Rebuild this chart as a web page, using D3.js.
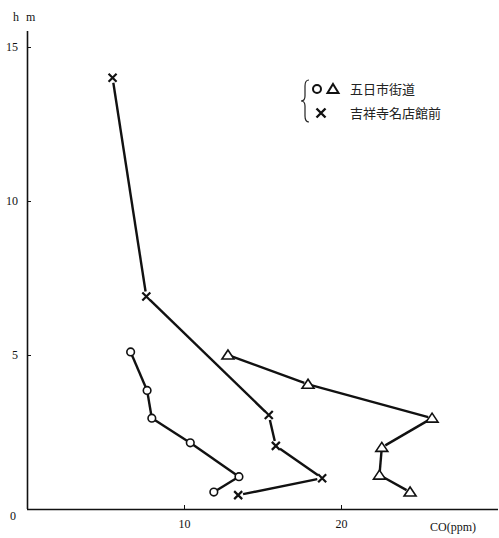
<!DOCTYPE html>
<html>
<head>
<meta charset="utf-8">
<script src="https://cdn.jsdelivr.net/npm/d3@7"></script>
<style>
  html, body { margin: 0; padding: 0; background: #fff; }
  svg { display: block; }
  .axis text { font-family: "Liberation Serif", "DejaVu Serif", serif; font-size: 12px; fill: #111; }
  .axis path, .axis line { stroke: #111; }
</style>
</head>
<body>
<svg id="chart" width="499" height="538"></svg>
<script>
// CO concentration (ppm) against height above ground (m)
const itsukaichiHeight = [5.1, 3.85, 2.95, 2.15, 1.05, 0.55];   // 五日市街道 (circles)
const itsukaichiCO     = [6.6, 7.65, 7.95, 10.4, 13.5, 11.9];
const itsukaichi2Height = [5.0, 4.05, 2.95, 2.0, 1.1, 0.55];    // 五日市街道 (triangles)
const itsukaichi2CO     = [12.8, 17.9, 25.8, 22.6, 22.45, 24.4];
const kichijojiHeight = [14.0, 6.9, 3.05, 2.05, 1.0, 0.45];     // 吉祥寺名店館前 (crosses)
const kichijojiCO     = [5.45, 7.6, 15.4, 15.85, 18.8, 13.45];
const xTicks = [10, 20];
const yTicks = [5, 10, 15];
const legendLabels = ["五日市街道", "吉祥寺名店館前"];

const svg = d3.select("#chart");
const x = d3.scaleLinear().domain([0, 30]).range([27, 498]);
const y = d3.scaleLinear().domain([0, 15]).range([509, 47]);

// axes
svg.append("g").attr("class", "axis")
  .attr("transform", `translate(0,${y(0)})`)
  .call(d3.axisBottom(x).tickValues(xTicks).tickSizeInner(-4).tickSizeOuter(0).tickPadding(10))
  .call(g => g.select(".domain").attr("d", `M${x(0)},0.5H498`).attr("stroke-width", 1.6));
svg.append("g").attr("class", "axis")
  .attr("transform", `translate(${x(0)},0)`)
  .call(d3.axisLeft(y).tickValues(yTicks).tickSizeInner(-4).tickSizeOuter(0).tickPadding(9))
  .call(g => g.select(".domain").attr("d", `M0.5,${y(0)}V31`).attr("stroke-width", 1.6));

const serif = '"Liberation Serif", "DejaVu Serif", serif';
svg.append("text").attr("x", 10).attr("y", 520).attr("font-family", serif)
  .attr("font-size", 12).attr("fill", "#111").text("0");
const unit = svg.append("text").attr("y", 21).attr("font-family", serif)
  .attr("font-size", 12).attr("fill", "#111");
unit.append("tspan").attr("x", 13).text("h");
unit.append("tspan").attr("x", 26).text("m");
svg.append("text").attr("x", 430).attr("y", 531).attr("font-family", serif)
  .attr("font-size", 12).attr("fill", "#111").text("CO(ppm)");

function pts(co, h) { return co.map((c, i) => [x(c), y(h[i])]); }

// draw series with segments trimmed back from the markers
function drawLine(p, trim) {
  for (let i = 0; i < p.length - 1; i++) {
    const [x1, y1] = p[i], [x2, y2] = p[i + 1];
    const d = Math.hypot(x2 - x1, y2 - y1);
    const ux = (x2 - x1) / d, uy = (y2 - y1) / d;
    svg.append("line")
      .attr("x1", x1 + ux * trim).attr("y1", y1 + uy * trim)
      .attr("x2", x2 - ux * trim).attr("y2", y2 - uy * trim)
      .attr("stroke", "#111").attr("stroke-width", 2.4);
  }
}

const circ = pts(itsukaichiCO, itsukaichiHeight);
const tri = pts(itsukaichi2CO, itsukaichi2Height);
const crs = pts(kichijojiCO, kichijojiHeight);
drawLine(circ, 3);
drawLine(tri, 4);
drawLine(crs, 5);

const triPath = "M0,-5L6,4L-6,4Z";
const crossPath = "M-4,-4L4,4M-4,4L4,-4";

svg.selectAll(".circ").data(circ).join("circle")
  .attr("cx", d => d[0]).attr("cy", d => d[1]).attr("r", 3.8)
  .attr("fill", "#fff").attr("stroke", "#111").attr("stroke-width", 1.6);
svg.selectAll(".tri").data(tri).join("path")
  .attr("transform", d => `translate(${d[0]},${d[1]})`).attr("d", triPath)
  .attr("fill", "#fff").attr("stroke", "#111").attr("stroke-width", 1.6);
svg.selectAll(".crs").data(crs).join("path")
  .attr("transform", d => `translate(${d[0]},${d[1]})`).attr("d", crossPath)
  .attr("fill", "none").attr("stroke", "#111").attr("stroke-width", 2.2);

// legend
const lg = svg.append("g");
lg.append("path").attr("d", "M309,80 Q305,80 305,86 L305,96 Q305,101 301,101 Q305,101 305,106 L305,116 Q305,122 309,122")
  .attr("fill", "none").attr("stroke", "#222").attr("stroke-width", 1.2);
lg.append("circle").attr("cx", 317).attr("cy", 89).attr("r", 4)
  .attr("fill", "#fff").attr("stroke", "#111").attr("stroke-width", 2);
lg.append("path").attr("transform", "translate(333,89)").attr("d", "M0,-5L5.5,4L-5.5,4Z")
  .attr("fill", "#fff").attr("stroke", "#111").attr("stroke-width", 2);
lg.append("path").attr("transform", "translate(321,113)").attr("d", "M-4.5,-4.5L4.5,4.5M-4.5,4.5L4.5,-4.5")
  .attr("fill", "none").attr("stroke", "#111").attr("stroke-width", 2.4);
lg.selectAll("text").data(legendLabels).join("text")
  .attr("x", 350).attr("y", (d, i) => 94 + i * 24)
  .attr("font-family", '"Noto Sans CJK JP", sans-serif').attr("font-size", 13)
  .attr("fill", "#222").text(d => d);
</script>
</body>
</html>
